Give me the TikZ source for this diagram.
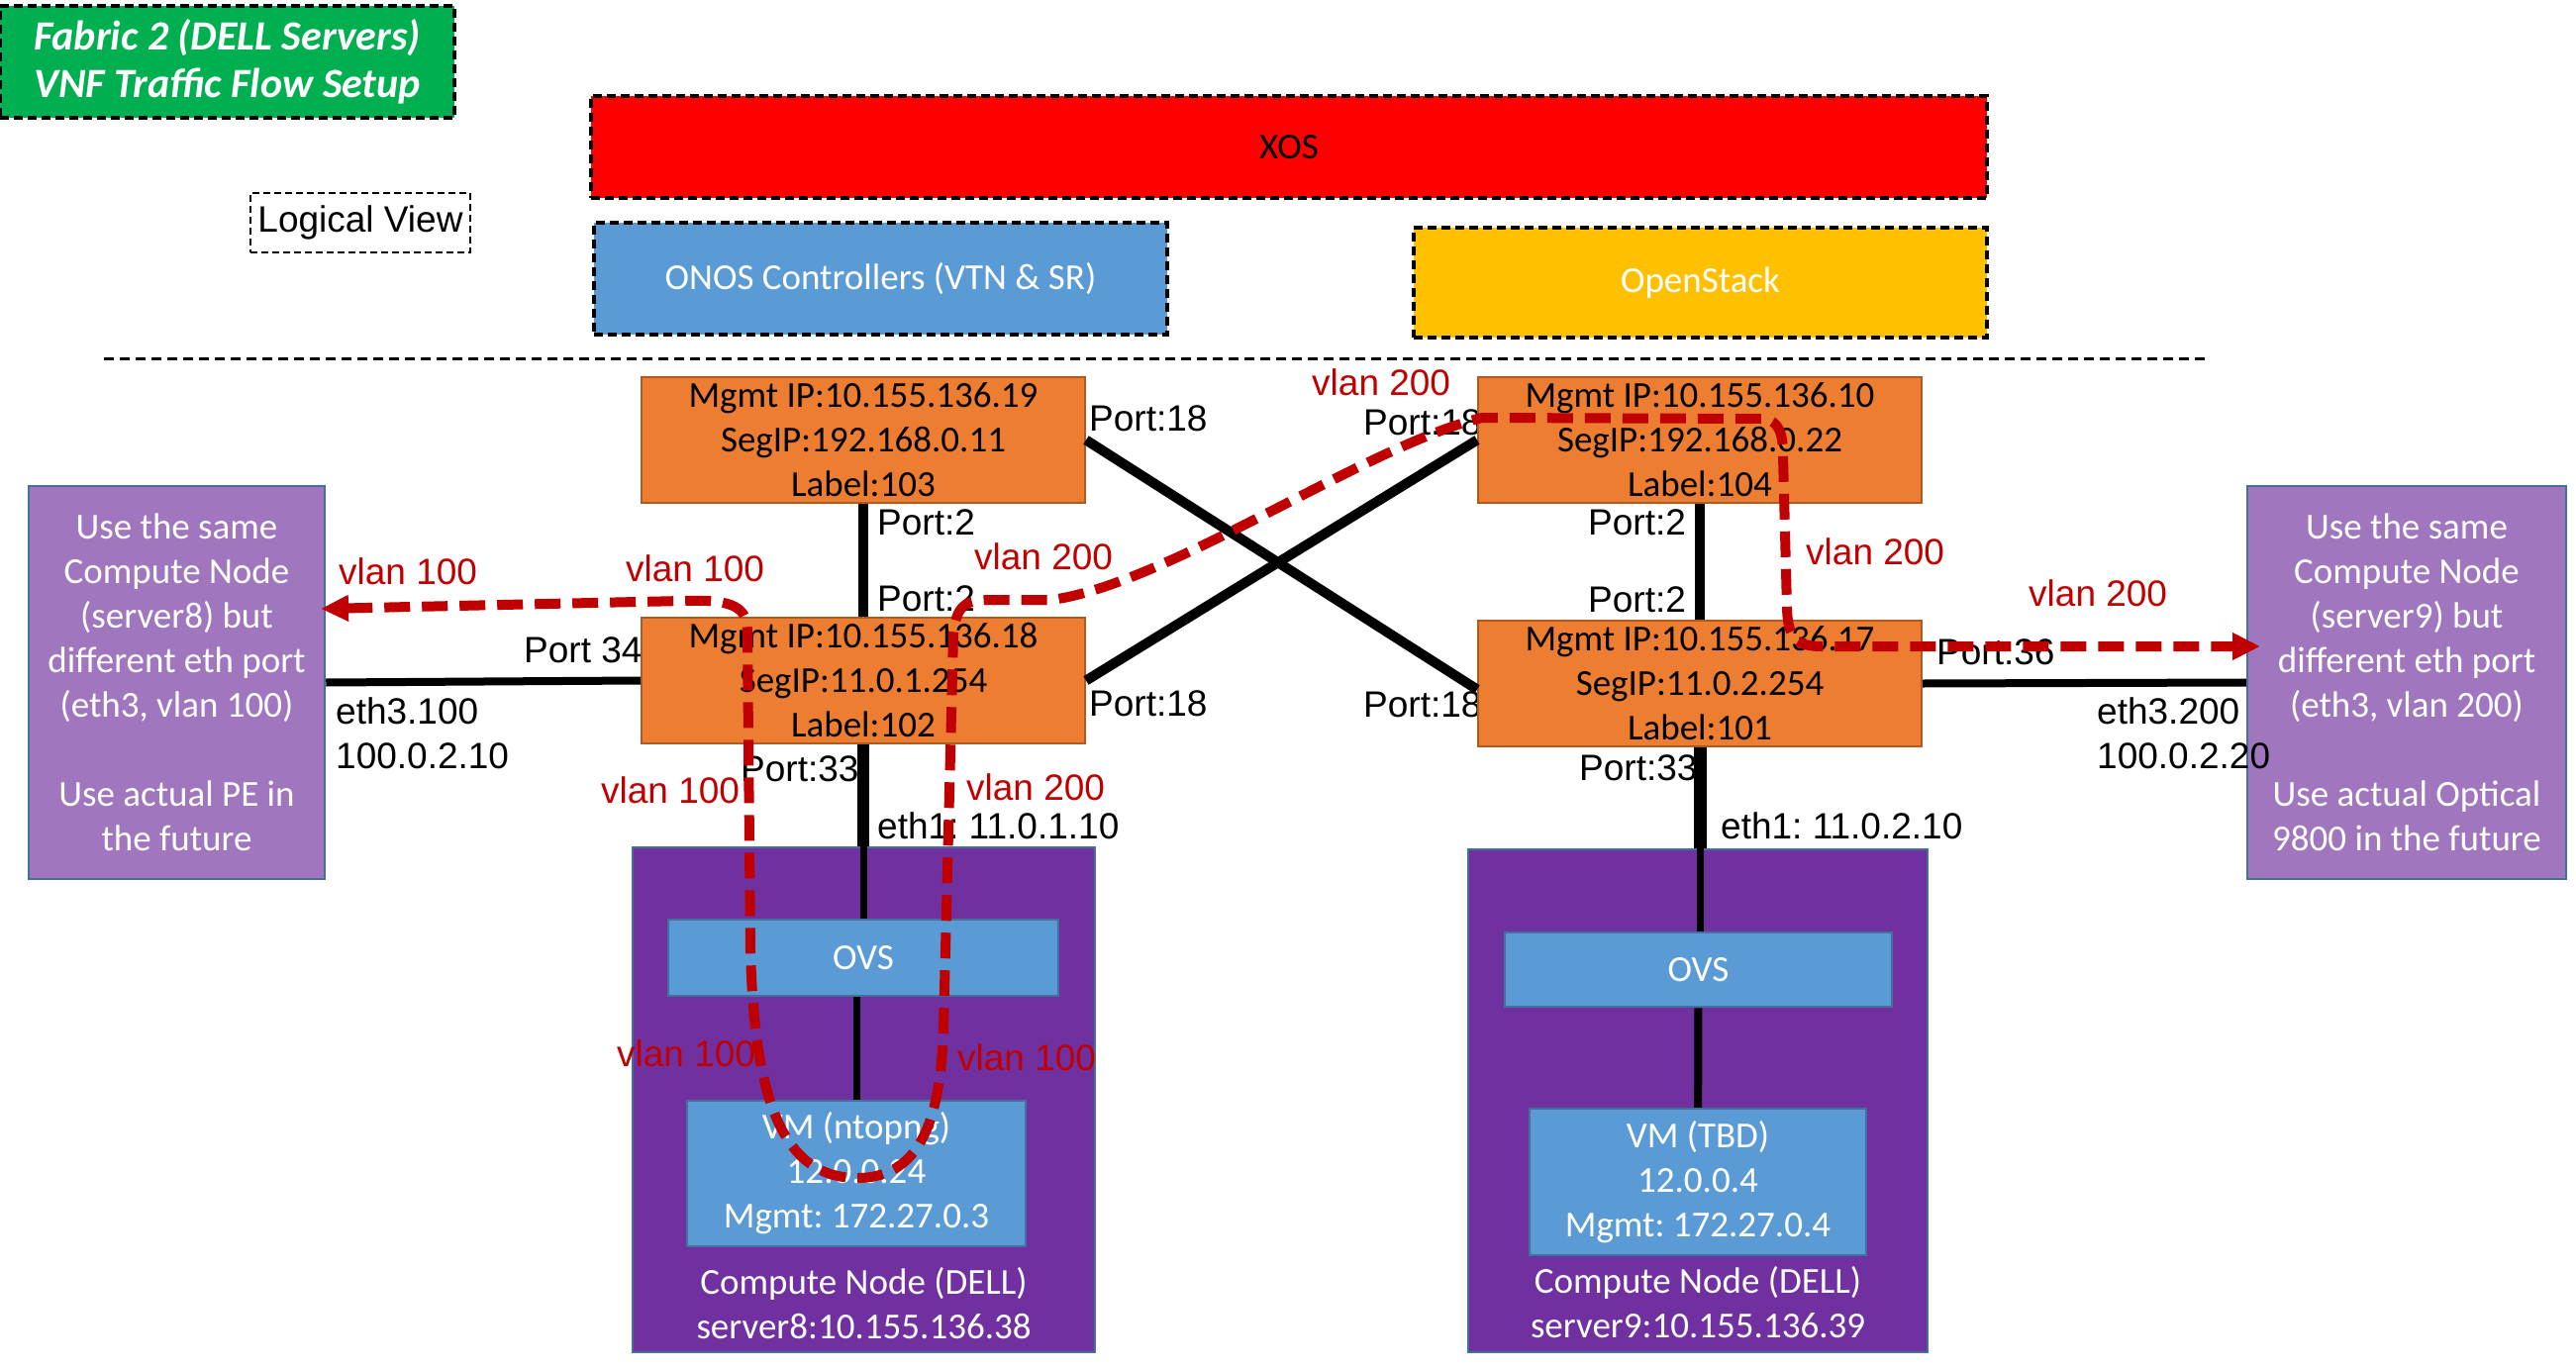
\documentclass[tikz,border=0pt]{standalone}
\usepackage{fontspec}
\setmainfont{Carlito}
\newfontfamily\arialfont{Liberation Sans}
\usetikzlibrary{arrows.meta,calc}
\definecolor{titlegreen}{RGB}{0,176,80}
\definecolor{swfill}{RGB}{237,125,49}
\definecolor{swline}{RGB}{174,90,33}
\definecolor{sidefill}{RGB}{160,118,190}
\definecolor{hostfill}{RGB}{112,48,160}
\definecolor{bluefill}{RGB}{91,155,213}
\definecolor{blueline}{RGB}{65,113,156}
\definecolor{osyellow}{RGB}{255,192,0}
\definecolor{vlanred}{RGB}{192,0,0}
\newcommand*\bodytxt{\fontsize{37}{45}\selectfont}
\newcommand*\porttxt{\arialfont\fontsize{37}{45}\selectfont}
\frenchspacing
\begin{document}
\begin{tikzpicture}[x=1pt, y=-1pt,
  dbox/.style={draw, dash pattern=on 9pt off 5pt, line width=3.5pt, inner sep=0pt, align=center, font=\bodytxt},
  switch/.style={draw=swline, fill=swfill, line width=2pt, inner sep=0pt, align=center, font=\bodytxt, minimum width=448pt, minimum height=127pt},
  sidebox/.style={draw=blueline, fill=sidefill, line width=2.5pt, inner sep=0pt, align=center, text=white, font=\bodytxt, minimum height=397pt},
  hostbox/.style={draw=blueline, fill=hostfill, line width=2.5pt, inner sep=0pt},
  bluebox/.style={draw=blueline, fill=bluefill, line width=2.5pt, inner sep=0pt, align=center, text=white, font=\bodytxt},
  port/.style={anchor=west, inner sep=0pt, font=\porttxt},
  vlan/.style={port, text=vlanred},
  link/.style={line width=10pt},
  redpath/.style={draw=vlanred, line width=10pt, dash pattern=on 26pt off 12pt, line join=round}]
  \useasboundingbox (0, 0) rectangle (2602, 1383);
  \node (title) at (229.5, 62.5) [dbox, fill=titlegreen, text=white, minimum width=459pt, minimum height=113pt, font=\fontsize{42}{48}\selectfont\bfseries\itshape] {Fabric 2 (DELL Servers)\\VNF Traffic Flow Setup};
  \node (logical) at (364, 225) [draw, dash pattern=on 7pt off 4pt, line width=2pt, inner sep=0pt, minimum width=222pt, minimum height=60pt, font=\porttxt] {Logical View};
  \node (xos) at (1302, 148.5) [dbox, fill=red, minimum width=1410pt, minimum height=103pt] {XOS};
  \node (onos) at (889.5, 281.5) [dbox, fill=bluefill, text=white, minimum width=579pt, minimum height=113pt] {ONOS Controllers (VTN \& SR)};
  \node (openstack) at (1717.5, 285.5) [dbox, fill=osyellow, text=white, minimum width=579pt, minimum height=111pt] {OpenStack};
  \draw[dash pattern=on 10pt off 6pt, line width=3pt] (105, 362) coordinate (sep1) -- (2227, 362) coordinate (sep2);
  \foreach \n/\x/\y/\t in {pa/1100/423/Port:18, pb/1377/427/Port:18, pc/886/528/Port:2, pd/886/605/Port:2,
    pe/1100/711/Port:18, pf/1377/712/Port:18, pg/748/777/Port:33, ph/1595/776/Port:33, pi/1604/528/Port:2,
    pj/1604/606/Port:2, pk/529/657/Port 34, pl/1956/659/Port:36, pm/886/834/eth1: 11.0.1.10, pn/1738/834/eth1: 11.0.2.10} {
    \node (\n) at (\x, \y) [port] {\t};
  }
  \node (sw103) at (872, 444.5) [switch] {Mgmt IP:10.155.136.19\\SegIP:192.168.0.11\\Label:103};
  \node (sw104) at (1717, 444.5) [switch] {Mgmt IP:10.155.136.10\\SegIP:192.168.0.22\\Label:104};
  \node (sw102) at (872, 687.5) [switch] {Mgmt IP:10.155.136.18\\SegIP:11.0.1.254\\Label:102};
  \node (sw101) at (1717, 690.5) [switch] {Mgmt IP:10.155.136.17\\SegIP:11.0.2.254\\Label:101};
  \node (pe8) at (178.5, 689.5) [sidebox, minimum width=299pt] {Use the same\\Compute Node\\(server8) but\\different eth port\\(eth3, vlan 100)\\\mbox{}\\Use actual PE in\\the future};
  \node (opt9) at (2431, 689.5) [sidebox, minimum width=322pt] {Use the same\\Compute Node\\(server9) but\\different eth port\\(eth3, vlan 200)\\\mbox{}\\Use actual Optical\\9800 in the future};
  \node (eth3a) at (339, 740.5) [port, align=left] {eth3.100\\100.0.2.10};
  \node (eth3b) at (2118, 741) [port, align=left] {eth3.200\\100.0.2.20};
  \node (cn8) at (872.5, 1111) [hostbox, minimum width=467pt, minimum height=510pt] {};
  \node (cn8lbl) at (872.5, 1316.5) [inner sep=0pt, align=center, text=white, font=\bodytxt] {Compute Node (DELL)\\server8:10.155.136.38};
  \node (ovs8) at (872, 967.5) [bluebox, minimum width=394pt, minimum height=77pt] {OVS};
  \node (vm8) at (865, 1185.5) [bluebox, minimum width=342pt, minimum height=147pt] {VM (ntopng)\\12.0.0.24\\Mgmt: 172.27.0.3};
  \node (cn9) at (1715, 1112) [hostbox, minimum width=464pt, minimum height=508pt] {};
  \node (cn9lbl) at (1715, 1315.5) [inner sep=0pt, align=center, text=white, font=\bodytxt] {Compute Node (DELL)\\server9:10.155.136.39};
  \node (ovs9) at (1715.5, 979.5) [bluebox, minimum width=391pt, minimum height=75pt] {OVS};
  \node (vm9) at (1715, 1194) [bluebox, minimum width=340pt, minimum height=148pt] {VM (TBD)\\12.0.0.4\\Mgmt: 172.27.0.4};
  \draw[link] (sw103) -- (sw102);
  \draw[link] (sw104) -- (sw101);
  \draw[link] (sw103.east) -- ($(sw101.west)+(0, 6)$);
  \draw[link] (sw102.east) -- (sw104.west);
  \draw[link, line width=8pt] (pe8.east) -- (sw102.west);
  \draw[link, line width=8pt] (sw101.east) -- (opt9.west);
  \draw[link, line width=12pt] (sw102.south) -- (sw102.south |- cn8.north);
  \draw[link, line width=7pt] (sw102.south |- cn8.north) -- (ovs8.north);
  \draw[link, line width=13pt] (sw101.south) -- (sw101.south |- cn9.north);
  \draw[link, line width=7pt] (sw101.south |- cn9.north) -- (sw101.south |- ovs9.north);
  \draw[link, line width=7pt] (ovs8.south -| vm8.north) -- (vm8.north);
  \draw[link, line width=8pt] (ovs9) -- (vm9);
  \foreach \n/\x/\y/\t in {va/342/577/vlan 100, vb/632/574/vlan 100, vc/607/798/vlan 100, vd/976/795/vlan 200,
    ve/984/562/vlan 200, vf/1325/386/vlan 200, vg/1824/557/vlan 200, vh/2049/599/vlan 200,
    vi/623/1064/vlan 100, vj/967/1068/vlan 100} {
    \node (\n) at (\x, \y) [vlan] {\t};
  }
  \coordinate (tipL) at (324, 615);
  \coordinate (tipR) at (2283, 653);
  \draw[redpath, {Triangle[length=28pt, width=25pt]}-{Triangle[length=28pt, width=26pt]}] (tipL) -- (690, 607)
    .. controls (745, 605) and (755, 615) .. (755, 640) -- (758, 960)
    .. controls (762, 1110) and (790, 1190) .. (866, 1190)
    .. controls (935, 1190) and (950, 1120) .. (953, 1040) -- (963, 640)
    .. controls (966, 612) and (975, 606) .. (1000, 606) -- (1062, 606)
    .. controls (1180, 590) and (1380, 450) .. (1497, 422) -- (1780, 423)
    .. controls (1798, 424) and (1801, 440) .. (1801, 460) -- (1805, 615)
    .. controls (1806, 645) and (1815, 653) .. (1840, 653) -- (tipR);
\end{tikzpicture}
\end{document}
